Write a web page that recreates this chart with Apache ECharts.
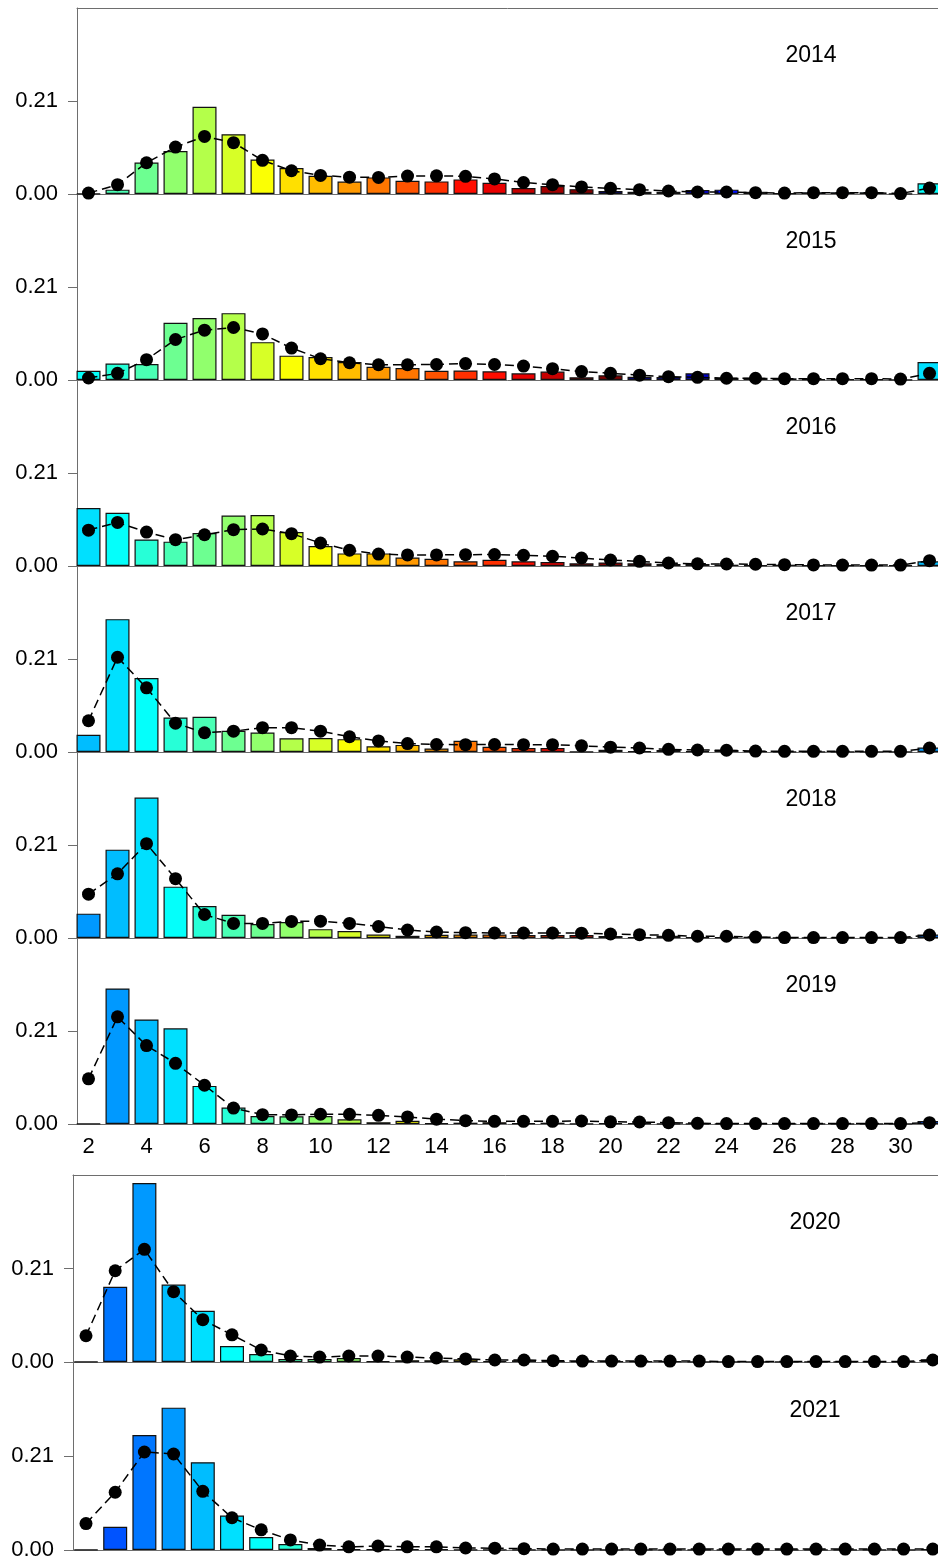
<!DOCTYPE html>
<html>
<head>
<meta charset="utf-8">
<script src="https://cdn.jsdelivr.net/npm/echarts@6/dist/echarts.min.js"></script>
<style>
  html, body { margin: 0; padding: 0; background: #fff; }
  #chart { width: 938px; height: 1562px; }
</style>
</head>
<body>
<div id="chart"></div>
<script>
// Age classes (31 = plus group)
const ages = [2, 3, 4, 5, 6, 7, 8, 9, 10, 11, 12, 13, 14, 15, 16, 17, 18, 19, 20, 21, 22, 23, 24, 25, 26, 27, 28, 29, 30, 31];
const years = [2014, 2015, 2016, 2017, 2018, 2019, 2020, 2021];
const xTickLabels = [2, 4, 6, 8, 10, 12, 14, 16, 18, 20, 22, 24, 26, 28, 30];
const yTickValues = [0, 0.21];

// Observed proportion at age (bars)
const obs2014 = [0.001, 0.0098, 0.071, 0.097, 0.197, 0.135, 0.078, 0.0585, 0.041, 0.028, 0.0375, 0.030, 0.0285, 0.033, 0.0255, 0.0135, 0.018, 0.011, 0.0068, 0.005, 0.005, 0.009, 0.0098, 0.005, 0.002, 0.004, 0.004, 0.004, 0.001, 0.024];
const obs2015 = [0.021, 0.037, 0.036, 0.129, 0.140, 0.151, 0.0855, 0.055, 0.052, 0.0405, 0.030, 0.027, 0.021, 0.0215, 0.0195, 0.015, 0.019, 0.006, 0.0105, 0.0075, 0.0068, 0.015, 0.005, 0.005, 0.0038, 0.002, 0.002, 0.002, 0.001, 0.0405];
const obs2016 = [0.131, 0.120, 0.060, 0.055, 0.0745, 0.114, 0.115, 0.0765, 0.045, 0.0285, 0.0285, 0.019, 0.0165, 0.0105, 0.014, 0.0105, 0.009, 0.006, 0.008, 0.006, 0.0045, 0.0045, 0.003, 0.002, 0.003, 0.002, 0.002, 0.002, 0.002, 0.0105];
const obs2017 = [0.039, 0.300, 0.167, 0.078, 0.0795, 0.048, 0.044, 0.031, 0.0315, 0.029, 0.0128, 0.016, 0.008, 0.0255, 0.012, 0.009, 0.009, 0.001, 0.005, 0.002, 0.0045, 0.002, 0.0045, 0.002, 0.001, 0.001, 0.001, 0.001, 0.001, 0.010];
const obs2018 = [0.055, 0.1995, 0.317, 0.116, 0.072, 0.0525, 0.0315, 0.036, 0.020, 0.0158, 0.008, 0.005, 0.0075, 0.008, 0.008, 0.0068, 0.0068, 0.0068, 0.0045, 0.0015, 0.005, 0.0015, 0.0015, 0.003, 0.001, 0.001, 0.001, 0.001, 0.001, 0.008];
const obs2019 = [0.001, 0.306, 0.236, 0.216, 0.086, 0.037, 0.018, 0.0175, 0.018, 0.0105, 0.004, 0.0075, 0.002, 0.003, 0.004, 0.002, 0.003, 0.001, 0.002, 0.002, 0.001, 0.001, 0.001, 0.001, 0.001, 0.001, 0.001, 0.001, 0.001, 0.0068];
const obs2020 = [0.001, 0.169, 0.402, 0.174, 0.115, 0.036, 0.018, 0.007, 0.007, 0.009, 0.002, 0.004, 0.004, 0.006, 0.002, 0.004, 0.002, 0.002, 0.002, 0.002, 0.002, 0.001, 0.001, 0.001, 0.001, 0.001, 0.001, 0.001, 0.001, 0.006];
const obs2021 = [0.001, 0.052, 0.257, 0.318, 0.196, 0.077, 0.029, 0.0135, 0.0045, 0.002, 0.002, 0.002, 0.002, 0.001, 0.001, 0.001, 0.001, 0.001, 0.001, 0.001, 0.001, 0.001, 0.001, 0.001, 0.001, 0.001, 0.001, 0.001, 0.001, 0.002];

// Predicted proportion at age (points)
const pred2014 = [0.002, 0.021, 0.0705, 0.106, 0.130, 0.116, 0.076, 0.0525, 0.042, 0.038, 0.0375, 0.0405, 0.041, 0.040, 0.034, 0.026, 0.021, 0.016, 0.0128, 0.0098, 0.0068, 0.0045, 0.0045, 0.003, 0.002, 0.003, 0.003, 0.003, 0.001, 0.0135];
const pred2015 = [0.0045, 0.015, 0.046, 0.0915, 0.1125, 0.1185, 0.104, 0.072, 0.048, 0.039, 0.0345, 0.0345, 0.035, 0.037, 0.035, 0.0315, 0.0255, 0.019, 0.015, 0.011, 0.0075, 0.006, 0.004, 0.004, 0.003, 0.003, 0.003, 0.003, 0.002, 0.015];
const pred2016 = [0.081, 0.0985, 0.0765, 0.0595, 0.0705, 0.082, 0.0835, 0.073, 0.052, 0.0355, 0.027, 0.025, 0.025, 0.0255, 0.026, 0.024, 0.022, 0.018, 0.0135, 0.0105, 0.0068, 0.005, 0.0045, 0.004, 0.003, 0.0025, 0.002, 0.002, 0.002, 0.012];
const pred2017 = [0.0705, 0.214, 0.145, 0.065, 0.0435, 0.047, 0.055, 0.055, 0.047, 0.0345, 0.025, 0.019, 0.017, 0.0165, 0.017, 0.0165, 0.0165, 0.014, 0.011, 0.009, 0.006, 0.0045, 0.004, 0.002, 0.0015, 0.0015, 0.0015, 0.0015, 0.0015, 0.009];
const pred2018 = [0.099, 0.145, 0.213, 0.134, 0.053, 0.033, 0.033, 0.0375, 0.038, 0.033, 0.026, 0.018, 0.0135, 0.012, 0.0113, 0.0113, 0.0113, 0.011, 0.009, 0.0075, 0.006, 0.004, 0.004, 0.002, 0.001, 0.001, 0.001, 0.001, 0.001, 0.0068];
const pred2019 = [0.102, 0.242, 0.177, 0.137, 0.0875, 0.036, 0.021, 0.0205, 0.022, 0.022, 0.0195, 0.016, 0.011, 0.0075, 0.006, 0.006, 0.006, 0.0068, 0.005, 0.0045, 0.003, 0.0015, 0.001, 0.001, 0.001, 0.001, 0.001, 0.001, 0.001, 0.003];
const pred2020 = [0.059, 0.205, 0.253, 0.158, 0.095, 0.061, 0.027, 0.0135, 0.011, 0.0135, 0.0135, 0.011, 0.009, 0.007, 0.0045, 0.0045, 0.003, 0.002, 0.002, 0.002, 0.002, 0.002, 0.001, 0.001, 0.001, 0.001, 0.001, 0.001, 0.001, 0.0045];
const pred2021 = [0.059, 0.129, 0.219, 0.2145, 0.131, 0.072, 0.045, 0.0226, 0.011, 0.007, 0.009, 0.007, 0.007, 0.0045, 0.004, 0.003, 0.002, 0.002, 0.002, 0.002, 0.002, 0.002, 0.002, 0.002, 0.002, 0.002, 0.002, 0.002, 0.002, 0.002];

const observed = [obs2014, obs2015, obs2016, obs2017, obs2018, obs2019, obs2020, obs2021];
const predicted = [pred2014, pred2015, pred2016, pred2017, pred2018, pred2019, pred2020, pred2021];

// Bars are coloured by year class, cycling through a 30-colour jet ramp
const JET = ['#00007F', '#0000FF', '#007FFF', '#00FFFF', '#7FFF7F', '#FFFF00', '#FF7F00', '#FF0000', '#7F0000'];
const PALETTE_SIZE = 30;
function hexToRgb(h) { return [1, 3, 5].map(i => parseInt(h.substr(i, 2), 16)); }
function jetColour(t) {
  const seg = t * (JET.length - 1);
  const i = Math.min(Math.floor(seg), JET.length - 2);
  const f = seg - i;
  const a = hexToRgb(JET[i]), b = hexToRgb(JET[i + 1]);
  const c = a.map((v, k) => Math.round(v + (b[k] - v) * f));
  return 'rgb(' + c.join(',') + ')';
}
function cohortColour(year, age) {
  const cohort = year - age;
  const idx = ((2024 - cohort) % PALETTE_SIZE + PALETTE_SIZE) % PALETTE_SIZE;
  return jetColour(idx / (PALETTE_SIZE - 1));
}

const FONT = "'Liberation Sans', Arial, sans-serif";
const FRAME = '#6e6e6e';
const PAGE_W = 938;

// Panel layout: two stacked blocks of panels sharing an age axis;
// the plot area is open on the right, where it meets the page edge
const panels = years.map((yr, i) => {
  if (i < 6) {
    return { top: 8 + 186 * i, height: 186, left: 77, xmin: 1.603, px: 29.0, labelX: 811, labelY: 56 + 186 * i };
  }
  const j = i - 6;
  return { top: 1175 + 187 * j, height: 187 + j, left: 73, xmin: 1.555, px: 29.2, labelX: 815, labelY: 1223 + 188 * j };
});

const grid = [], xAxis = [], yAxis = [], series = [], graphic = [];
panels.forEach((p, i) => {
  const xmax = p.xmin + (PAGE_W - p.left) / p.px;
  grid.push({ left: p.left, top: p.top, height: p.height, right: 0, show: false });
  xAxis.push({
    gridIndex: i, type: 'value', position: 'bottom', min: p.xmin, max: xmax,
    axisLine: { show: true, onZero: false, lineStyle: { color: FRAME, width: 1 } },
    axisTick: { show: false }, splitLine: { show: false },
    axisLabel: {
      show: i === 5, customValues: xTickLabels, margin: 12,
      fontSize: 22, color: '#000', fontFamily: FONT
    }
  });
  yAxis.push({
    gridIndex: i, type: 'value', min: 0, max: 0.42,
    axisLine: { show: true, onZero: false, lineStyle: { color: FRAME, width: 1 } },
    axisTick: { show: true, customValues: yTickValues, length: 9, lineStyle: { color: FRAME, width: 1 } },
    splitLine: { show: false },
    axisLabel: {
      customValues: yTickValues, formatter: v => v.toFixed(2), margin: 19,
      fontSize: 22, color: '#000', fontFamily: FONT
    }
  });
  series.push({
    type: 'bar', xAxisIndex: i, yAxisIndex: i, barWidth: 24, silent: true,
    itemStyle: { borderColor: '#111', borderWidth: 1.2 },
    data: ages.map((a, k) => ({ value: [a, observed[i][k]], itemStyle: { color: cohortColour(years[i], a) } })),
    z: 2
  });
  series.push({
    type: 'line', xAxisIndex: i, yAxisIndex: i, silent: true,
    symbol: 'circle', symbolSize: 13, showSymbol: true,
    itemStyle: { color: '#000' },
    lineStyle: { color: '#000', width: 1.5, type: [9, 5] },
    data: ages.map((a, k) => [a, predicted[i][k]]),
    z: 3
  });
  graphic.push({
    type: 'text', x: p.labelX, y: p.labelY, z: 10,
    style: { text: String(years[i]), fontSize: 23, fontFamily: FONT, fill: '#000', align: 'center', verticalAlign: 'middle' }
  });
});

// Top frame line for the first panel of each block
[0, 6].forEach(i => {
  xAxis.push({
    gridIndex: i, type: 'value', position: 'top', min: xAxis[i].min, max: xAxis[i].max,
    axisLine: { show: true, onZero: false, lineStyle: { color: FRAME, width: 1 } },
    axisTick: { show: false }, axisLabel: { show: false }, splitLine: { show: false }
  });
});

const chart = echarts.init(document.getElementById('chart'), null, { renderer: 'canvas' });
chart.setOption({
  animation: false,
  backgroundColor: '#fff',
  grid, xAxis, yAxis, series, graphic
});
</script>
</body>
</html>
